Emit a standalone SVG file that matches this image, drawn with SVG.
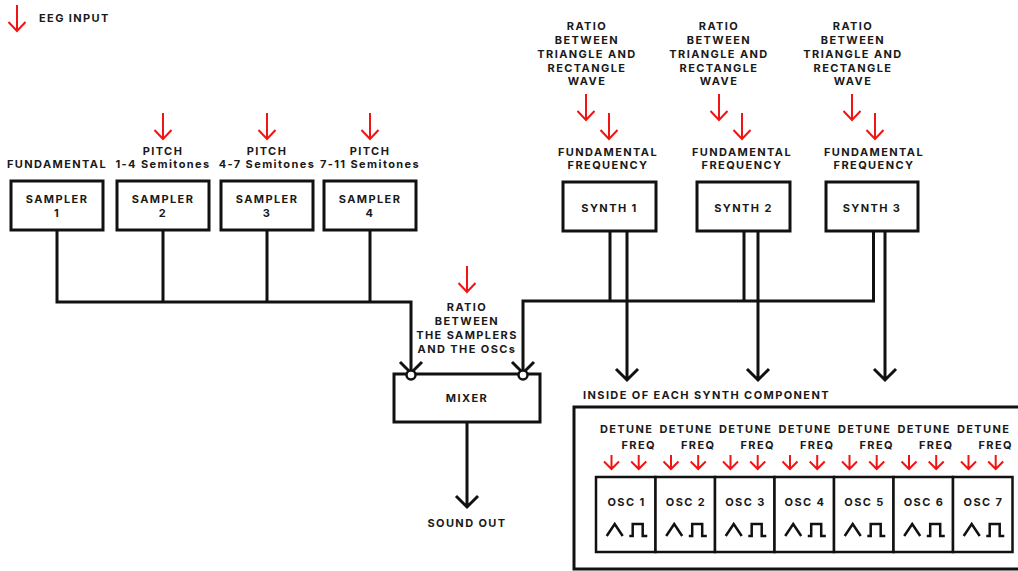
<svg xmlns="http://www.w3.org/2000/svg" xmlns:xlink="http://www.w3.org/1999/xlink" width="1018" height="571" viewBox="0 0 1018 571">
<style>
.t{font-family:Inter,"Liberation Sans","DejaVu Sans",sans-serif;font-weight:700;font-size:11px;letter-spacing:1.4px;fill:#1a1a1a;text-anchor:middle}
.s{text-anchor:start}
.box{fill:#fff;stroke:#111;stroke-width:3}
.ln{fill:none;stroke:#111;stroke-width:3}
.red{fill:none;stroke:#f01414;stroke-width:2}
.wave{fill:none;stroke:#111;stroke-width:2.5}
</style>
<defs>
<g id="ra"><path class="red" d="M0,0V26M-8.5,17L0,26L8.5,17"/></g>
<g id="rs"><path class="red" d="M0,0V14M-7.5,6.5L0,14L7.5,6.5"/></g>
<g id="osc"><rect class="box" x="0" y="0" width="59.5" height="75" style="stroke-width:2.5"/><path class="wave" d="M10.7,59L18.7,47L26.7,59M33.3,59H36.7V47H46.7V59H51.3"/></g>
</defs>

<g id="legend">
<use xlink:href="#ra" x="17" y="5"/>
<text class="t s" x="39" y="22">EEG INPUT</text>
</g>

<g id="connectors">
<path class="ln" d="M57,230V302H411V372"/>
<path class="ln" d="M163,230V302M267,230V302M370,230V302"/>
<path class="ln" d="M523,372V301H873.5V231"/>
<path class="ln" d="M610,231V301M744,231V301"/>
<path class="ln" d="M627,231V380M616,369L627,380L638,369"/>
<path class="ln" d="M758,231V380M747,369L758,380L769,369"/>
<path class="ln" d="M885,231V380M874,369L885,380L896,369"/>
<path class="ln" d="M400,362L411,373L422,362"/>
<path class="ln" d="M512,362L523,373L534,362"/>
<path class="ln" d="M467,422V507M456,496L467,507L478,496"/>
</g>

<g id="sampler1">
<text class="t" x="57" y="168">FUNDAMENTAL</text>
<rect class="box" x="11" y="181" width="92" height="49"/>
<text class="t" x="57" y="203">SAMPLER</text><text class="t" x="57" y="217">1</text>
</g>
<g id="sampler2">
<use xlink:href="#ra" x="163" y="113"/>
<text class="t" x="163" y="155">PITCH</text><text class="t" x="163" y="168">1-4 Semitones</text>
<rect class="box" x="117" y="181" width="92" height="49"/>
<text class="t" x="163" y="203">SAMPLER</text><text class="t" x="163" y="217">2</text>
</g>
<g id="sampler3">
<use xlink:href="#ra" x="267" y="113"/>
<text class="t" x="267" y="155">PITCH</text><text class="t" x="267" y="168">4-7 Semitones</text>
<rect class="box" x="221" y="181" width="92" height="49"/>
<text class="t" x="267" y="203">SAMPLER</text><text class="t" x="267" y="217">3</text>
</g>
<g id="sampler4">
<use xlink:href="#ra" x="370" y="113"/>
<text class="t" x="370" y="155">PITCH</text><text class="t" x="370" y="168">7-11 Semitones</text>
<rect class="box" x="324" y="181" width="92" height="49"/>
<text class="t" x="370" y="203">SAMPLER</text><text class="t" x="370" y="217">4</text>
</g>

<g id="synth1">
<text class="t" x="587" y="30">RATIO</text><text class="t" x="587" y="44">BETWEEN</text><text class="t" x="587" y="58">TRIANGLE AND</text><text class="t" x="587" y="71.5">RECTANGLE</text><text class="t" x="587" y="85">WAVE</text>
<use xlink:href="#ra" x="586" y="94"/><use xlink:href="#ra" x="609" y="113"/>
<text class="t" x="608" y="155.5">FUNDAMENTAL</text><text class="t" x="608" y="169">FREQUENCY</text>
<rect class="box" x="563" y="182" width="93" height="49"/>
<text class="t" x="609.5" y="212">SYNTH 1</text>
</g>
<g id="synth2">
<text class="t" x="719" y="30">RATIO</text><text class="t" x="719" y="44">BETWEEN</text><text class="t" x="719" y="58">TRIANGLE AND</text><text class="t" x="719" y="71.5">RECTANGLE</text><text class="t" x="719" y="85">WAVE</text>
<use xlink:href="#ra" x="719" y="94"/><use xlink:href="#ra" x="742" y="113"/>
<text class="t" x="742" y="155.5">FUNDAMENTAL</text><text class="t" x="742" y="169">FREQUENCY</text>
<rect class="box" x="697" y="182" width="93" height="49"/>
<text class="t" x="743.5" y="212">SYNTH 2</text>
</g>
<g id="synth3">
<text class="t" x="853" y="30">RATIO</text><text class="t" x="853" y="44">BETWEEN</text><text class="t" x="853" y="58">TRIANGLE AND</text><text class="t" x="853" y="71.5">RECTANGLE</text><text class="t" x="853" y="85">WAVE</text>
<use xlink:href="#ra" x="852" y="94"/><use xlink:href="#ra" x="875" y="113"/>
<text class="t" x="874" y="155.5">FUNDAMENTAL</text><text class="t" x="874" y="169">FREQUENCY</text>
<rect class="box" x="826" y="182" width="92" height="49"/>
<text class="t" x="872" y="212">SYNTH 3</text>
</g>

<g id="mixer">
<use xlink:href="#ra" x="467" y="266"/>
<text class="t" x="467" y="311">RATIO</text><text class="t" x="467" y="325">BETWEEN</text><text class="t" x="467" y="339">THE SAMPLERS</text><text class="t" x="467" y="353">AND THE OSCs</text>
<rect class="box" x="394" y="374" width="146" height="48"/>
<circle cx="411" cy="375" r="4.5" fill="#fff" stroke="#111" stroke-width="2.5"/>
<circle cx="523" cy="375" r="4.5" fill="#fff" stroke="#111" stroke-width="2.5"/>
<text class="t" x="467" y="402">MIXER</text>
</g>

<g id="sound-out">
<text class="t" x="467" y="527">SOUND OUT</text>
</g>

<g id="synth-inside">
<text class="t s" x="583" y="398.5">INSIDE OF EACH SYNTH COMPONENT</text>
<rect class="box" x="574" y="407" width="470" height="162"/>
</g>

<g id="osc1"><text class="t" x="626.7" y="433">DETUNE</text><text class="t" x="638.7" y="449">FREQ</text><use xlink:href="#rs" x="611.5" y="455"/><use xlink:href="#rs" x="638.7" y="455"/><use xlink:href="#osc" x="596" y="477"/><text class="t" x="626.5" y="506">OSC 1</text></g>
<g id="osc2"><text class="t" x="686.2" y="433">DETUNE</text><text class="t" x="698.2" y="449">FREQ</text><use xlink:href="#rs" x="671" y="455"/><use xlink:href="#rs" x="698.2" y="455"/><use xlink:href="#osc" x="655.5" y="477"/><text class="t" x="686" y="506">OSC 2</text></g>
<g id="osc3"><text class="t" x="745.7" y="433">DETUNE</text><text class="t" x="757.7" y="449">FREQ</text><use xlink:href="#rs" x="730.5" y="455"/><use xlink:href="#rs" x="757.7" y="455"/><use xlink:href="#osc" x="715" y="477"/><text class="t" x="745.5" y="506">OSC 3</text></g>
<g id="osc4"><text class="t" x="805.2" y="433">DETUNE</text><text class="t" x="817.2" y="449">FREQ</text><use xlink:href="#rs" x="790" y="455"/><use xlink:href="#rs" x="817.2" y="455"/><use xlink:href="#osc" x="774.5" y="477"/><text class="t" x="805" y="506">OSC 4</text></g>
<g id="osc5"><text class="t" x="864.7" y="433">DETUNE</text><text class="t" x="876.7" y="449">FREQ</text><use xlink:href="#rs" x="849.5" y="455"/><use xlink:href="#rs" x="876.7" y="455"/><use xlink:href="#osc" x="834" y="477"/><text class="t" x="864.5" y="506">OSC 5</text></g>
<g id="osc6"><text class="t" x="924.2" y="433">DETUNE</text><text class="t" x="936.2" y="449">FREQ</text><use xlink:href="#rs" x="909" y="455"/><use xlink:href="#rs" x="936.2" y="455"/><use xlink:href="#osc" x="893.5" y="477"/><text class="t" x="924" y="506">OSC 6</text></g>
<g id="osc7"><text class="t" x="983.7" y="433">DETUNE</text><text class="t" x="995.7" y="449">FREQ</text><use xlink:href="#rs" x="968.5" y="455"/><use xlink:href="#rs" x="995.7" y="455"/><use xlink:href="#osc" x="953" y="477"/><text class="t" x="983.5" y="506">OSC 7</text></g>
</svg>
